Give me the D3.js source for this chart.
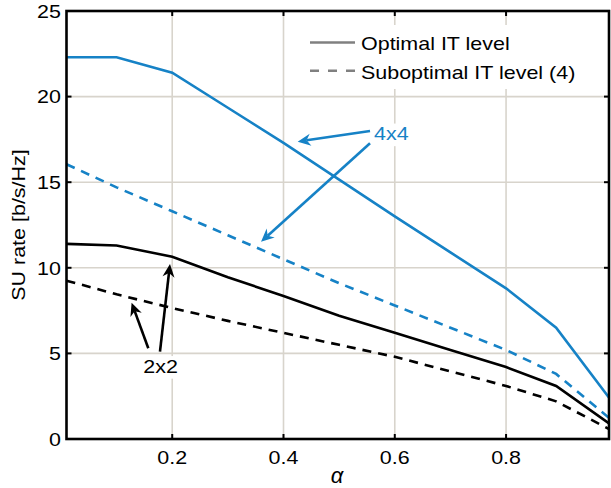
<!DOCTYPE html>
<html>
<head>
<meta charset="utf-8">
<script src="https://cdn.jsdelivr.net/npm/d3@7"></script>
<style>
  body { margin: 0; background: #fff; }
  text { font-family: "Liberation Sans", Arial, sans-serif; }
</style>
</head>
<body>
<div id="container"></div>
<script>

// Data
const alpha = [0.01, 0.1, 0.2, 0.3, 0.4, 0.5, 0.6, 0.7, 0.8, 0.89, 0.99];
const opt4x4 = [22.3, 22.3, 21.4, 19.35, 17.3, 15.15, 13.0, 10.9, 8.8, 6.5, 2.2];
const sub4x4 = [16.05, 14.7, 13.3, 11.9, 10.5, 9.1, 7.8, 6.5, 5.2, 3.8, 1.1];
const opt2x2 = [11.4, 11.3, 10.65, 9.45, 8.35, 7.2, 6.2, 5.2, 4.2, 3.1, 0.8];
const sub2x2 = [9.25, 8.45, 7.65, 6.9, 6.2, 5.5, 4.8, 3.95, 3.1, 2.2, 0.5];

const xTicks = [0.2, 0.4, 0.6, 0.8];
const yTicks = [0, 5, 10, 15, 20, 25];
const legendLabels = ["Optimal IT level", "Suboptimal IT level (4)"];

const width = 611;
const height = 488;

const blue = "#1682c6";
const gridColor = "#d8d4cc";
// the original glyphs are a little wider than Arial, so text is stretched sideways
const fontSize = 19;
const sx = 1.13;

// Plot area
const plotLeft = 66.5, plotRight = 609, plotTop = 11, plotBottom = 439;

const x = d3.scaleLinear().domain([0.01, 0.985]).range([plotLeft, plotRight]);
const y = d3.scaleLinear().domain([0, 25]).range([plotBottom, plotTop]);

const svg = d3.create("svg")
    .attr("width", width)
    .attr("height", height);

document.getElementById("container").append(svg.node());

svg.append("defs").append("clipPath")
    .attr("id", "clip")
  .append("rect")
    .attr("x", plotLeft)
    .attr("y", plotTop)
    .attr("width", plotRight - plotLeft)
    .attr("height", plotBottom - plotTop);

// Grid
svg.append("g")
  .selectAll("line")
  .data(xTicks)
  .join("line")
    .attr("x1", d => x(d))
    .attr("x2", d => x(d))
    .attr("y1", plotTop)
    .attr("y2", plotBottom)
    .attr("stroke", gridColor)
    .attr("stroke-width", 1.6);

svg.append("g")
  .selectAll("line")
  .data(yTicks.filter(d => d > 0 && d < 25))
  .join("line")
    .attr("x1", plotLeft)
    .attr("x2", plotRight)
    .attr("y1", d => y(d))
    .attr("y2", d => y(d))
    .attr("stroke", gridColor)
    .attr("stroke-width", 1.6);

// Legend background (covers the grid)
svg.append("rect")
    .attr("x", 299)
    .attr("y", 25)
    .attr("width", plotRight - 299)
    .attr("height", 64)
    .attr("fill", "#fff");

// Series lines
const line = d3.line()
    .x((d, i) => x(alpha[i]))
    .y(d => y(d));

const series = [
  { values: opt4x4, color: blue, dash: null },
  { values: sub4x4, color: blue, dash: "9,7" },
  { values: opt2x2, color: "#000", dash: null },
  { values: sub2x2, color: "#000", dash: "9,7" }
];

svg.append("g")
    .attr("clip-path", "url(#clip)")
  .selectAll("path")
  .data(series)
  .join("path")
    .attr("d", d => line(d.values))
    .attr("fill", "none")
    .attr("stroke", d => d.color)
    .attr("stroke-width", 2.6)
    .attr("stroke-dasharray", d => d.dash);

// Inside ticks on all four sides
const tickLen = 5;
const ticks = svg.append("g").attr("stroke", "#000").attr("stroke-width", 2);
xTicks.forEach(t => {
  ticks.append("line").attr("x1", x(t)).attr("x2", x(t)).attr("y1", plotBottom).attr("y2", plotBottom - tickLen);
  ticks.append("line").attr("x1", x(t)).attr("x2", x(t)).attr("y1", plotTop).attr("y2", plotTop + tickLen);
});
yTicks.forEach(t => {
  ticks.append("line").attr("x1", plotLeft).attr("x2", plotLeft + tickLen).attr("y1", y(t)).attr("y2", y(t));
  ticks.append("line").attr("x1", plotRight).attr("x2", plotRight - tickLen).attr("y1", y(t)).attr("y2", y(t));
});

// Axis box
svg.append("rect")
    .attr("x", plotLeft)
    .attr("y", plotTop)
    .attr("width", plotRight - plotLeft)
    .attr("height", plotBottom - plotTop)
    .attr("fill", "none")
    .attr("stroke", "#000")
    .attr("stroke-width", 2.6);

// Tick labels
svg.append("g")
  .selectAll("text")
  .data(xTicks)
  .join("text")
    .attr("transform", d => `translate(${x(d)},464) scale(${sx},1)`)
    .attr("text-anchor", "middle")
    .attr("font-size", fontSize)
    .attr("fill", "#000")
    .text(d => d3.format(".1f")(d));

svg.append("g")
  .selectAll("text")
  .data(yTicks)
  .join("text")
    .attr("transform", d => `translate(61,${y(d)}) scale(${sx},1)`)
    .attr("dy", "0.36em")
    .attr("text-anchor", "end")
    .attr("font-size", fontSize)
    .attr("fill", "#000")
    .text(d => d);

// Axis labels
svg.append("text")
    .attr("x", 337)
    .attr("y", 483)
    .attr("text-anchor", "middle")
    .attr("font-family", "'Liberation Serif', 'DejaVu Serif', serif")
    .attr("font-style", "italic")
    .attr("font-size", 22)
    .attr("fill", "#000")
    .text("α");

svg.append("text")
    .attr("transform", `translate(25,${(plotTop + plotBottom) / 2}) rotate(-90) scale(${sx},1)`)
    .attr("text-anchor", "middle")
    .attr("font-size", fontSize)
    .attr("fill", "#000")
    .text("SU rate [b/s/Hz]");

// Legend
const legend = svg.append("g");
legendLabels.forEach((label, i) => {
  const ly = 42.5 + i * 28.3;
  legend.append("line")
      .attr("x1", 310)
      .attr("x2", 355)
      .attr("y1", ly)
      .attr("y2", ly)
      .attr("stroke", "#808080")
      .attr("stroke-width", 2.6)
      .attr("stroke-dasharray", i === 0 ? null : "9,9");
  legend.append("text")
      .attr("transform", `translate(361,${ly + 1}) scale(${sx},1)`)
      .attr("dy", "0.36em")
      .attr("font-size", fontSize)
      .attr("fill", "#000")
      .text(label);
});

// Annotations: arrows from label to curve, in data coordinates
const arrows = [
  { from: [0.5555, 17.99], to: [0.4255, 17.37], color: blue },
  { from: [0.5555, 17.27], to: [0.3596, 11.52], color: blue },
  { from: [0.157, 5.30], to: [0.127, 7.96], color: "#000" },
  { from: [0.178, 5.10], to: [0.196, 10.22], color: "#000" }
];

const labels = [
  { text: "4x4", at: [0.5627, 17.44], color: blue },
  { text: "2x2", at: [0.148, 3.86], color: "#000" }
];

const ann = svg.append("g");

arrows.forEach(a => {
  const x1 = x(a.from[0]), y1 = y(a.from[1]);
  const x2 = x(a.to[0]), y2 = y(a.to[1]);
  const ang = Math.atan2(y2 - y1, x2 - x1);
  const headLen = 13, headW = 6, notch = 9;
  const bx = x2 - Math.cos(ang) * notch, by = y2 - Math.sin(ang) * notch;
  ann.append("line")
      .attr("x1", x1).attr("y1", y1)
      .attr("x2", bx).attr("y2", by)
      .attr("stroke", a.color)
      .attr("stroke-width", 2.6);
  const hx = x2 - Math.cos(ang) * headLen, hy = y2 - Math.sin(ang) * headLen;
  const px = -Math.sin(ang) * headW, py = Math.cos(ang) * headW;
  ann.append("path")
      .attr("d", `M${x2},${y2}L${hx + px},${hy + py}L${bx},${by}L${hx - px},${hy - py}Z`)
      .attr("fill", a.color);
});

labels.forEach(l => {
  const g = ann.append("g")
      .attr("transform", `translate(${x(l.at[0])},${y(l.at[1])}) scale(${sx},1)`);
  const t = g.append("text")
      .attr("font-size", fontSize)
      .attr("fill", l.color)
      .text(l.text);
  const b = t.node().getBBox();
  g.insert("rect", "text")
      .attr("x", b.x - 2)
      .attr("y", b.y)
      .attr("width", b.width + 4)
      .attr("height", b.height + 2)
      .attr("fill", "#fff");
});

</script>
</body>
</html>
